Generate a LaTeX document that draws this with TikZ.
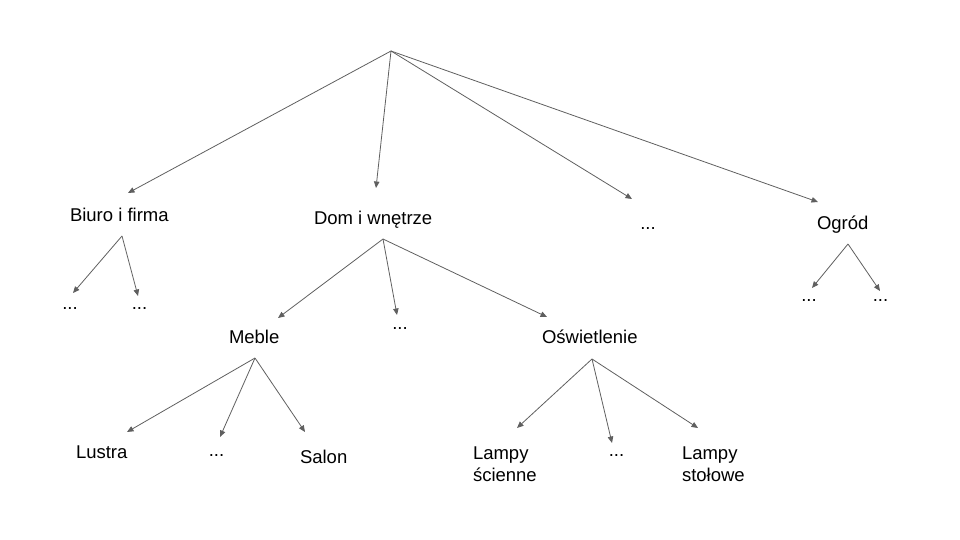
\documentclass[tikz,border=0pt]{standalone}
\usepackage{fontspec}
\setmainfont{Liberation Sans}
\usetikzlibrary{arrows.meta}
\definecolor{linegray}{HTML}{5F5F5F}
\tikzset{
  lbl/.style={anchor=base west, inner sep=0pt, outer sep=0pt, font=\fontsize{18.5}{21.5}\selectfont, text=black, align=left},
  dots/.style={anchor=base, inner sep=0pt, outer sep=0pt, font=\fontsize{18.5}{21.5}\selectfont, text=black},
  conn/.style={draw=linegray, line width=0.8pt, -{Triangle[length=6.5pt,width=5.5pt]}}
}
\begin{document}
\begin{tikzpicture}[x=1pt,y=-1pt]
\useasboundingbox (0,0) rectangle (960,540);
% texts
\node[lbl] (biuro) at (70,221.5) {Biuro i firma};
\node[lbl] (dom) at (314,224) {Dom i wnętrze};
\node[dots] (d1) at (648,229) {...};
\node[lbl] (ogrod) at (817,229.5) {Ogród};
\node[dots] (bd1) at (70,309) {...};
\node[dots] (bd2) at (139.5,309) {...};
\node[lbl] (meble) at (229,343.5) {Meble};
\node[dots] (dd) at (400,329) {...};
\node[lbl] (oswi) at (542,343.5) {Oświetlenie};
\node[dots] (od1) at (809,301) {...};
\node[dots] (od2) at (880.5,301) {...};
\node[lbl] (lustra) at (76,458.5) {Lustra};
\node[dots] (md) at (216.5,456) {...};
\node[lbl] (salon) at (300,463.5) {Salon};
\node[lbl] (lsc) at (473,481) {Lampy\\ścienne};
\node[dots] (osd) at (616.5,456) {...};
\node[lbl] (lst) at (682,481) {Lampy\\stołowe};
% apexes and ends
\coordinate (root) at (391,51);
\coordinate (eBiuro) at (128,193);
\coordinate (eDom) at (376,188);
\coordinate (eD1) at (632,199);
\coordinate (eOgrod) at (818,202);
\coordinate (aBiuro) at (122,236);
\coordinate (eBd1) at (73,293);
\coordinate (eBd2) at (138,296);
\coordinate (aDom) at (383,239);
\coordinate (eMeble) at (278,318);
\coordinate (eDd) at (397,315);
\coordinate (eOswi) at (547,317);
\coordinate (aOgrod) at (848,244);
\coordinate (eOd1) at (812,288);
\coordinate (eOd2) at (880,291);
\coordinate (aMeble) at (255,358);
\coordinate (eLustra) at (127,432);
\coordinate (eMd) at (220,437);
\coordinate (eSalon) at (305,432);
\coordinate (aOswi) at (592,359);
\coordinate (eLsc) at (517,428);
\coordinate (eOsd) at (612,443);
\coordinate (eLst) at (698,428);
% connectors
\draw[conn] (root) -- (eBiuro);
\draw[conn] (root) -- (eDom);
\draw[conn] (root) -- (eD1);
\draw[conn] (root) -- (eOgrod);
\draw[conn] (aBiuro) -- (eBd1);
\draw[conn] (aBiuro) -- (eBd2);
\draw[conn] (aDom) -- (eMeble);
\draw[conn] (aDom) -- (eDd);
\draw[conn] (aDom) -- (eOswi);
\draw[conn] (aOgrod) -- (eOd1);
\draw[conn] (aOgrod) -- (eOd2);
\draw[conn] (aMeble) -- (eLustra);
\draw[conn] (aMeble) -- (eMd);
\draw[conn] (aMeble) -- (eSalon);
\draw[conn] (aOswi) -- (eLsc);
\draw[conn] (aOswi) -- (eOsd);
\draw[conn] (aOswi) -- (eLst);
\end{tikzpicture}
\end{document}
